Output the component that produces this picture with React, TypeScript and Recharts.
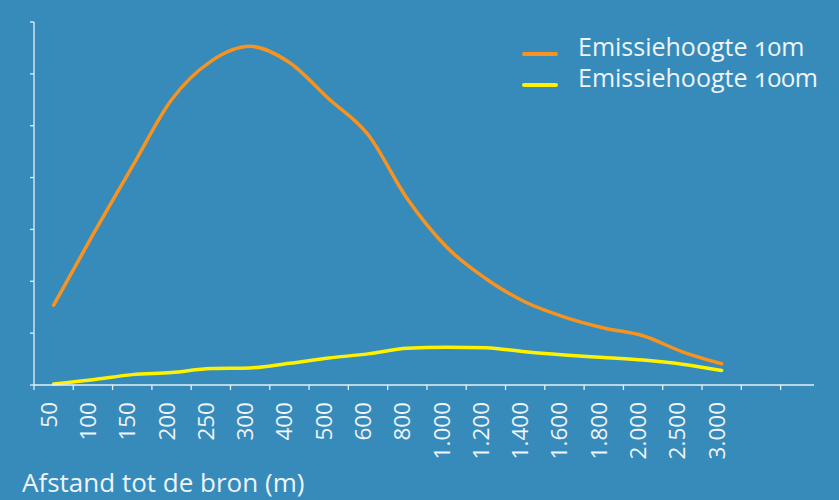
import React from 'react';
import { LineChart, Line, XAxis, YAxis } from 'recharts';

const categories = ['50', '100', '150', '200', '250', '300', '400', '500', '600', '800', '1.000', '1.200', '1.400', '1.600', '1.800', '2.000', '2.500', '3.000'];
const emission10m = [1.54, 2.9, 4.21, 5.5, 6.24, 6.53, 6.22, 5.52, 4.83, 3.59, 2.66, 2.05, 1.6, 1.31, 1.1, 0.95, 0.64, 0.41];
const emission100m = [0.02, 0.1, 0.2, 0.24, 0.32, 0.33, 0.42, 0.52, 0.6, 0.71, 0.73, 0.72, 0.64, 0.58, 0.53, 0.48, 0.4, 0.28];
const xTicks = [0, 1, 2, 3, 4, 5, 6, 7, 8, 9, 10, 11, 12, 13, 14, 15, 16, 17, 18, 19];
const yTicks = [0, 1, 2, 3, 4, 5, 6, 7];
const seriesNames = ['Emissiehoogte 10m', 'Emissiehoogte 100m'];

const data = categories.map((c, i) => ({ x: i + 0.5, label: c, a: emission10m[i], b: emission100m[i] }));

const BG = '#378bba';
const ORANGE = '#f7931e';
const YELLOW = '#fff200';
const AXIS = '#e6eff6';
const TEXT = '#eef4f8';
const FONT = '"Open Sans", sans-serif';
const BAND = 39.3;

const XTick = (props: any) => {
  const { x, y, payload } = props;
  const label = categories[payload.value] ?? '';
  if (!label) return null;
  return (
    <text
      transform={`translate(${x + BAND / 2 + 3}, ${y + 10}) rotate(-90)`}
      textAnchor="end"
      fill={TEXT}
      fontSize={22.5}
      fontFamily={FONT}
    >
      {label}
    </text>
  );
};

export default function App() {
  return (
    <div style={{ position: 'absolute', left: 0, top: 0, width: 839, height: 500, background: BG, overflow: 'hidden' }}>
      <LineChart width={839} height={500} data={data} margin={{ top: 22, right: 25, bottom: 15, left: 24 }}>
        <XAxis
          dataKey="x"
          type="number"
          domain={[0, 19.85]}
          ticks={xTicks}
          allowDataOverflow
          interval={0}
          height={100}
          stroke={AXIS}
          strokeWidth={1.3}
          tickSize={5}
          tick={<XTick />}
        />
        <YAxis
          type="number"
          domain={[0, 7]}
          ticks={yTicks}
          interval={0}
          width={10}
          stroke={AXIS}
          strokeWidth={1.3}
          tickSize={4}
          tickFormatter={() => ''}
        />
        <Line type="monotone" dataKey="a" name={seriesNames[0]} stroke={ORANGE} strokeWidth={3.5} dot={false} isAnimationActive={false} strokeLinecap="round" />
        <Line type="monotone" dataKey="b" name={seriesNames[1]} stroke={YELLOW} strokeWidth={3.5} dot={false} isAnimationActive={false} strokeLinecap="round" />
      </LineChart>
      {seriesNames.map((n, i) => (
        <div key={n} style={{ position: 'absolute', left: 522, top: 31 + i * 31, height: 31 }}>
          <div style={{ position: 'absolute', left: 0, top: 21, width: 36, height: 3.5, borderRadius: 2, background: i === 0 ? ORANGE : YELLOW }} />
          <span style={{ position: 'absolute', left: 56, top: 0, fontFamily: FONT, fontSize: 25, lineHeight: '31px', color: TEXT, whiteSpace: 'nowrap', fontVariantNumeric: 'oldstyle-nums' }}>{n}</span>
        </div>
      ))}
      <div style={{ position: 'absolute', left: 22, top: 466, fontFamily: FONT, fontSize: 26, lineHeight: '32px', color: TEXT, whiteSpace: 'nowrap' }}>
        Afstand tot de bron (m)
      </div>
    </div>
  );
}
